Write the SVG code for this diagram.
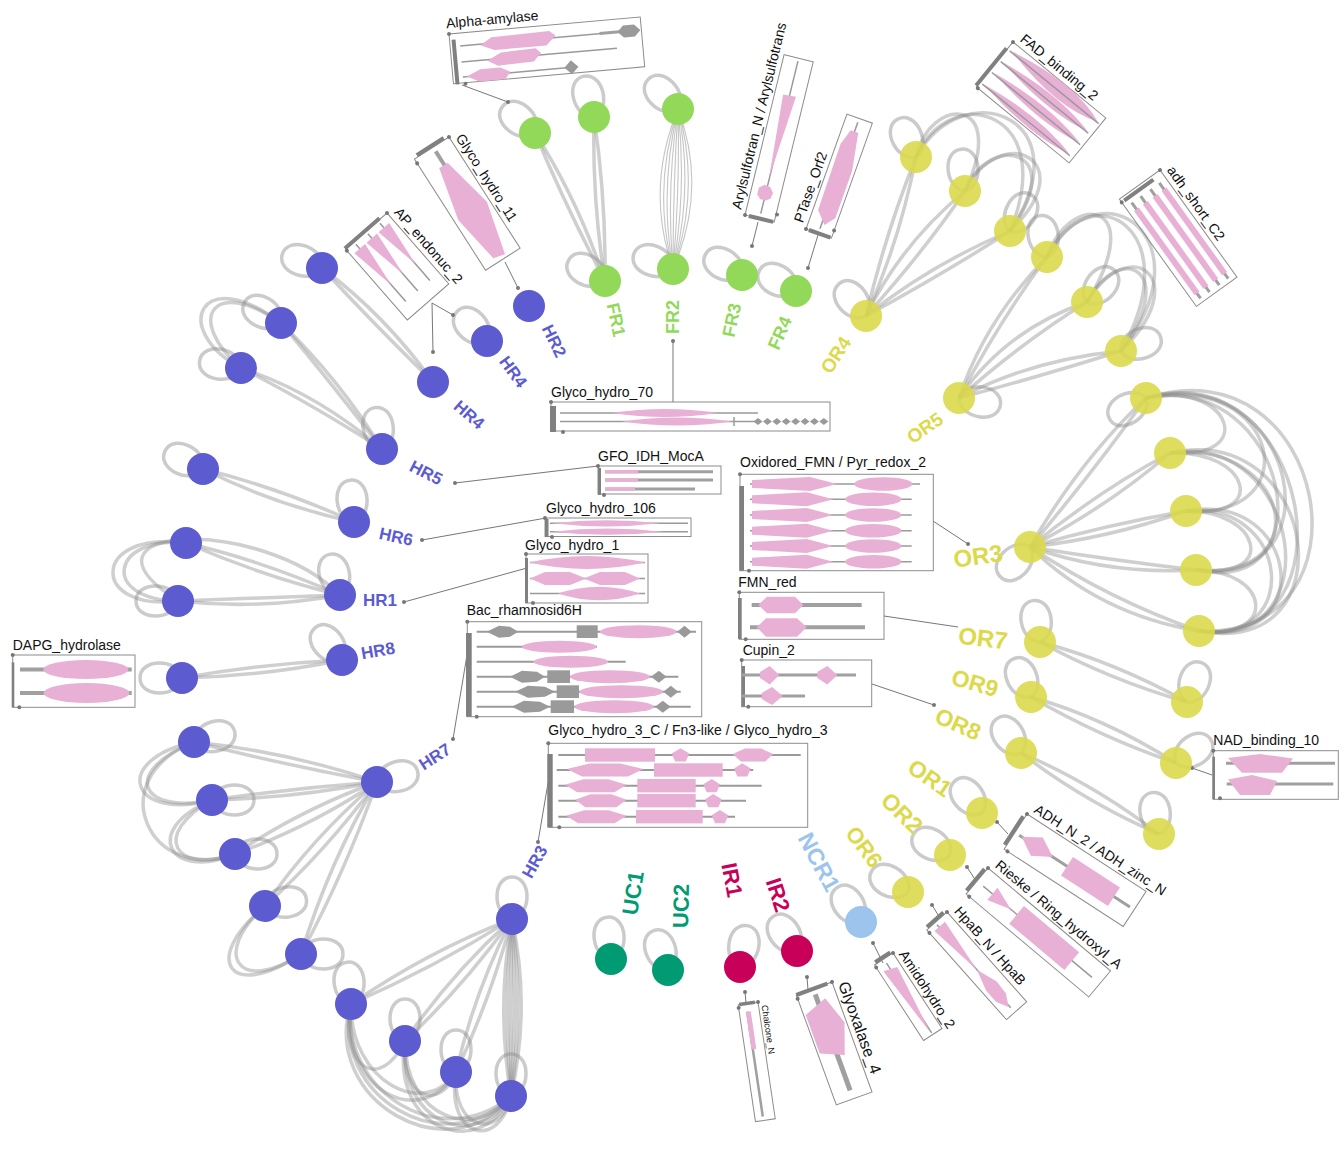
<svg xmlns="http://www.w3.org/2000/svg" width="1344" height="1165" viewBox="0 0 1344 1165">
<defs>
<path id="lp" d="M0,0 C4,-20 42,-20 42,0 C42,20 4,20 0,0"/>
</defs>
<style>
.e{fill:none;stroke:#8c8c8c;stroke-opacity:.42;stroke-width:3.5}
.et{fill:none;stroke:#8c8c8c;stroke-opacity:.5;stroke-width:1.1}
.lp{fill:none;stroke:#8c8c8c;stroke-opacity:.45;stroke-width:3.5}
.hr{fill:#5c5bd0}.fr{fill:#92d95a}.or{fill:#dcd94b;fill-opacity:.9}.uc{fill:#009b73}.ir{fill:#c8005a}.ncr{fill:#9cc4ec}
.lb{font-family:"Liberation Sans",Arial,sans-serif;font-weight:bold;text-anchor:middle;dominant-baseline:central}
.bx{fill:none;stroke:#8c8c8c;stroke-width:1}
.bar{fill:#808080}
.dt{fill:#777}
.tl{stroke:#9a9a9a;stroke-width:1.5}
.tk{stroke:#a0a0a0;stroke-width:3}
.tk4{stroke:#a0a0a0;stroke-width:4}
.pk{fill:#e8b0d4}
.gd{fill:#9a9a9a}
.cn{stroke:#777;stroke-width:1}
.t{font-family:"Liberation Sans",Arial,sans-serif;font-size:14px;fill:#111}
</style>
<rect width="1344" height="1165" fill="#fff"/>

<g id="connectors">
<!-- FR1 -->
<path class="e" d="M535,133 Q565,205 605,281"/>
<path class="e" d="M535,133 Q578,200 605,281"/>
<path class="e" d="M594,117 Q592,200 605,281"/>
<path class="e" d="M594,117 Q606,198 605,281"/>
<!-- FR2 bundle -->
<path class="et" d="M678,109 Q645,189 673,269"/>
<path class="et" d="M678,109 Q652,189 673,269"/>
<path class="et" d="M678,109 Q659,189 673,269"/>
<path class="et" d="M678,109 Q666,189 673,269"/>
<path class="et" d="M678,109 Q673,189 673,269"/>
<path class="et" d="M678,109 Q680,189 673,269"/>
<path class="et" d="M678,109 Q687,189 673,269"/>
<path class="et" d="M678,109 Q694,189 673,269"/>
<path class="et" d="M678,109 Q701,189 673,269"/>
<path class="et" d="M678,109 Q708,189 673,269"/>
<!-- OR4 -->
<path class="e" d="M866,316 Q885,235 916,157"/>
<path class="e" d="M866,316 Q900,240 916,157"/>
<path class="e" d="M866,316 Q900,245 965,191"/>
<path class="e" d="M866,316 Q925,250 965,191"/>
<path class="e" d="M866,316 Q930,265 1010,231"/>
<path class="e" d="M866,316 Q950,270 1010,231"/>
<path class="e" d="M916,157 C930,95 1010,95 965,191"/>
<path class="e" d="M916,157 C950,80 1060,110 1010,231"/>
<path class="e" d="M916,157 C965,70 1085,120 1010,231"/>
<path class="e" d="M965,191 C990,130 1070,150 1010,231"/>
<path class="e" d="M965,191 C1000,120 1085,160 1010,231"/>
<!-- OR5 -->
<path class="e" d="M959,398 Q985,320 1047,257"/>
<path class="e" d="M959,398 Q1000,320 1047,257"/>
<path class="e" d="M959,398 Q1005,330 1087,302"/>
<path class="e" d="M959,398 Q1025,340 1087,302"/>
<path class="e" d="M959,398 Q1030,360 1121,351"/>
<path class="e" d="M959,398 Q1045,375 1121,351"/>
<path class="e" d="M1047,257 C1070,190 1150,200 1087,302"/>
<path class="e" d="M1047,257 C1090,170 1190,230 1121,351"/>
<path class="e" d="M1047,257 C1100,160 1210,240 1121,351"/>
<path class="e" d="M1087,302 C1120,240 1180,270 1121,351"/>
<path class="e" d="M1087,302 C1130,230 1195,280 1121,351"/>
<!-- OR3 -->
<path class="e" d="M1030,547 Q1080,460 1146,398"/>
<path class="e" d="M1030,547 Q1095,470 1146,398"/>
<path class="e" d="M1030,547 Q1100,490 1170,453"/>
<path class="e" d="M1030,547 Q1110,505 1170,453"/>
<path class="e" d="M1030,547 Q1105,525 1186,511"/>
<path class="e" d="M1030,547 Q1110,538 1186,511"/>
<path class="e" d="M1030,547 Q1110,560 1196,570"/>
<path class="e" d="M1030,547 Q1110,575 1196,570"/>
<path class="e" d="M1030,547 Q1110,600 1199,631"/>
<path class="e" d="M1030,547 Q1100,615 1199,631"/>
<path class="e" d="M1146,398 C1330,340 1380,640 1199,631"/>
<path class="e" d="M1146,398 C1310,350 1360,650 1199,631"/>
<path class="e" d="M1146,398 C1300,360 1340,590 1196,570"/>
<path class="e" d="M1146,398 C1290,370 1330,600 1196,570"/>
<path class="e" d="M1146,398 C1280,370 1310,520 1186,511"/>
<path class="e" d="M1146,398 C1230,380 1260,460 1170,453"/>
<path class="e" d="M1170,453 C1320,420 1350,660 1199,631"/>
<path class="e" d="M1170,453 C1300,430 1335,650 1199,631"/>
<path class="e" d="M1170,453 C1290,440 1320,580 1196,570"/>
<path class="e" d="M1170,453 C1250,450 1270,520 1186,511"/>
<path class="e" d="M1186,511 C1300,490 1320,650 1199,631"/>
<path class="e" d="M1186,511 C1290,500 1305,645 1199,631"/>
<path class="e" d="M1186,511 C1260,510 1280,580 1196,570"/>
<path class="e" d="M1196,570 C1270,570 1280,640 1199,631"/>
<!-- OR7 OR9 OR8 -->
<path class="e" d="M1040,642 Q1115,662 1187,702"/>
<path class="e" d="M1040,642 Q1110,680 1187,702"/>
<path class="e" d="M1031,697 Q1105,718 1176,763"/>
<path class="e" d="M1031,697 Q1100,737 1176,763"/>
<path class="e" d="M1021,753 Q1092,783 1159,834"/>
<path class="e" d="M1021,753 Q1085,802 1159,834"/>
<!-- HR4 -->
<path class="e" d="M433,382 Q370,320 322,268"/>
<path class="e" d="M433,382 Q385,315 322,268"/>
<!-- HR5 -->
<path class="e" d="M382,449 Q305,400 241,368"/>
<path class="e" d="M382,449 Q315,392 241,368"/>
<path class="e" d="M382,449 Q325,375 281,323"/>
<path class="e" d="M382,449 Q340,380 281,323"/>
<path class="e" d="M241,368 C170,330 200,262 281,323"/>
<path class="e" d="M241,368 C185,320 212,275 281,323"/>
<!-- HR6 -->
<path class="e" d="M354,522 Q280,488 203,469"/>
<path class="e" d="M354,522 Q275,505 203,469"/>
<!-- HR1 -->
<path class="e" d="M340,595 Q260,560 186,543"/>
<path class="e" d="M340,595 Q265,577 186,543"/>
<path class="e" d="M340,595 Q260,598 178,601"/>
<path class="e" d="M340,595 Q260,610 178,601"/>
<path class="e" d="M186,543 C90,530 90,612 178,601"/>
<path class="e" d="M186,543 C110,535 100,600 178,601"/>
<path class="e" d="M340,595 C260,515 60,525 178,601"/>
<!-- HR8 -->
<path class="e" d="M342,660 Q260,664 182,678"/>
<path class="e" d="M342,660 Q265,676 182,678"/>
<!-- HR7 -->
<path class="e" d="M377,782 Q290,752 194,742"/>
<path class="e" d="M377,782 Q285,765 194,742"/>
<path class="e" d="M377,782 Q295,788 212,800"/>
<path class="e" d="M377,782 Q295,798 212,800"/>
<path class="e" d="M377,782 Q300,810 235,854"/>
<path class="e" d="M377,782 Q312,826 235,854"/>
<path class="e" d="M377,782 Q310,840 265,906"/>
<path class="e" d="M377,782 Q325,852 265,906"/>
<path class="e" d="M377,782 Q330,860 301,954"/>
<path class="e" d="M377,782 Q345,872 301,954"/>
<path class="e" d="M194,742 C110,760 130,822 212,800"/>
<path class="e" d="M194,742 C120,772 140,815 212,800"/>
<path class="e" d="M194,742 C100,780 150,885 235,854"/>
<path class="e" d="M212,800 C140,830 170,882 235,854"/>
<path class="e" d="M212,800 C150,835 175,875 235,854"/>
<path class="e" d="M265,906 C200,960 230,1002 301,954"/>
<path class="e" d="M265,906 C210,955 240,995 301,954"/>
<!-- HR3 -->
<path class="e" d="M512,919 Q430,950 351,1004"/>
<path class="e" d="M512,919 Q435,967 351,1004"/>
<path class="e" d="M512,919 Q450,975 405,1041"/>
<path class="e" d="M512,919 Q463,987 405,1041"/>
<path class="e" d="M512,919 Q475,990 456,1072"/>
<path class="e" d="M512,919 Q490,1000 456,1072"/>
<path class="e" d="M512,919 Q496,1007 511,1096"/>
<path class="e" d="M512,919 Q503,1007 511,1096"/>
<path class="e" d="M512,919 Q510,1007 511,1096"/>
<path class="e" d="M512,919 Q517,1007 511,1096"/>
<path class="e" d="M512,919 Q524,1007 511,1096"/>
<path class="e" d="M512,919 Q531,1007 511,1096"/>
<path class="e" d="M351,1004 C320,1100 450,1175 511,1096"/>
<path class="e" d="M351,1004 C330,1095 445,1165 511,1096"/>
<path class="e" d="M351,1004 C340,1090 440,1155 511,1096"/>
<path class="e" d="M351,1004 C340,1090 420,1132 456,1072"/>
<path class="e" d="M351,1004 C350,1082 425,1120 456,1072"/>
<path class="e" d="M351,1004 C340,1070 380,1092 405,1041"/>
<path class="e" d="M405,1041 C390,1130 480,1162 511,1096"/>
<path class="e" d="M405,1041 C398,1125 478,1152 511,1096"/>
<path class="e" d="M405,1041 C405,1118 475,1142 511,1096"/>
<path class="e" d="M405,1041 C400,1100 440,1112 456,1072"/>
<path class="e" d="M456,1072 C445,1140 500,1150 511,1096"/>
<path class="e" d="M456,1072 C452,1132 500,1140 511,1096"/>

<!-- self loops -->
<g class="lp">
<use href="#lp" transform="translate(535,133) rotate(-140)"/>
<use href="#lp" transform="translate(594,117) rotate(-105)"/>
<use href="#lp" transform="translate(605,281) rotate(-150)"/>
<use href="#lp" transform="translate(678,109) rotate(-135)"/>
<use href="#lp" transform="translate(673,269) rotate(-158)"/>
<use href="#lp" transform="translate(742,275) rotate(-150)"/>
<use href="#lp" transform="translate(796,291) rotate(-150)"/>
<use href="#lp" transform="translate(916,157) rotate(-115)"/>
<use href="#lp" transform="translate(965,191) rotate(-95)"/>
<use href="#lp" transform="translate(1010,231) rotate(-60)"/>
<use href="#lp" transform="translate(866,316) rotate(-130)"/>
<use href="#lp" transform="translate(1047,257) rotate(-100)"/>
<use href="#lp" transform="translate(1087,302) rotate(-50)"/>
<use href="#lp" transform="translate(1121,351) rotate(-20)"/>
<use href="#lp" transform="translate(959,398) rotate(10)"/>
<use href="#lp" transform="translate(1146,398) rotate(150)"/>
<use href="#lp" transform="translate(1030,547) rotate(135)"/>
<use href="#lp" transform="translate(1040,642) rotate(-100)"/>
<use href="#lp" transform="translate(1187,702) rotate(-70)"/>
<use href="#lp" transform="translate(1031,697) rotate(-115)"/>
<use href="#lp" transform="translate(1176,763) rotate(-35)"/>
<use href="#lp" transform="translate(1021,753) rotate(-125)"/>
<use href="#lp" transform="translate(1159,834) rotate(-100)"/>
<use href="#lp" transform="translate(982,813) rotate(-130)"/>
<use href="#lp" transform="translate(950,855) rotate(-150)"/>
<use href="#lp" transform="translate(908,892) rotate(-150)"/>
<use href="#lp" transform="translate(861,922) rotate(-125)"/>
<use href="#lp" transform="translate(797,951) rotate(-125)"/>
<use href="#lp" transform="translate(740,967) rotate(-80)"/>
<use href="#lp" transform="translate(668,970) rotate(-110)"/>
<use href="#lp" transform="translate(611,959) rotate(-95)"/>
<use href="#lp" transform="translate(487,341) rotate(-135)"/>
<use href="#lp" transform="translate(322,268) rotate(-160)"/>
<use href="#lp" transform="translate(382,449) rotate(-100)"/>
<use href="#lp" transform="translate(241,368) rotate(-170)"/>
<use href="#lp" transform="translate(281,323) rotate(-150)"/>
<use href="#lp" transform="translate(354,522) rotate(-95)"/>
<use href="#lp" transform="translate(203,469) rotate(-155)"/>
<use href="#lp" transform="translate(340,595) rotate(-105)"/>
<use href="#lp" transform="translate(178,601) rotate(180)"/>
<use href="#lp" transform="translate(342,660) rotate(-130)"/>
<use href="#lp" transform="translate(182,678) rotate(180)"/>
<use href="#lp" transform="translate(377,782) rotate(-15)"/>
<use href="#lp" transform="translate(194,742) rotate(-15)"/>
<use href="#lp" transform="translate(212,800) rotate(0)"/>
<use href="#lp" transform="translate(235,854) rotate(0)"/>
<use href="#lp" transform="translate(265,906) rotate(-10)"/>
<use href="#lp" transform="translate(301,954) rotate(0)"/>
<use href="#lp" transform="translate(512,919) rotate(-90)"/>
<use href="#lp" transform="translate(351,1004) rotate(-95)"/>
<use href="#lp" transform="translate(405,1041) rotate(-90)"/>
<use href="#lp" transform="translate(456,1072) rotate(-90)"/>
<use href="#lp" transform="translate(511,1096) rotate(-90)"/>
</g>

<!-- box connectors -->
<g class="cn">
<line x1="462" y1="85" x2="508" y2="102"/>
<line x1="505" y1="262" x2="518" y2="288"/>
<line x1="432" y1="303" x2="453" y2="315"/>
<line x1="432" y1="303" x2="433" y2="352"/>
<line x1="758" y1="222" x2="752" y2="246"/>
<line x1="818" y1="235" x2="808" y2="268"/>
<line x1="673" y1="402" x2="673" y2="341"/>
<line x1="598" y1="466" x2="455" y2="483"/>
<line x1="546" y1="518" x2="422" y2="540"/>
<line x1="527" y1="568" x2="404" y2="602"/>
<line x1="467" y1="655" x2="453" y2="739"/>
<line x1="548" y1="783" x2="538" y2="842"/>
<line x1="933" y1="521" x2="968" y2="544"/>
<line x1="884" y1="616" x2="958" y2="627"/>
<line x1="872" y1="684" x2="934" y2="705"/>
<line x1="1192" y1="768" x2="1212" y2="775"/>
<line x1="997" y1="822" x2="1008" y2="834"/>
<line x1="967" y1="867" x2="976" y2="881"/>
<line x1="932" y1="905" x2="940" y2="918"/>
<line x1="873" y1="943" x2="883" y2="963"/>
<line x1="807" y1="977" x2="808" y2="990"/>
<line x1="745" y1="992" x2="746" y2="1003"/>
</g>
<g class="dt">
<circle cx="508" cy="102" r="2"/><circle cx="518" cy="288" r="2"/><circle cx="453" cy="315" r="2"/><circle cx="433" cy="352" r="2"/>
<circle cx="752" cy="246" r="2"/><circle cx="808" cy="268" r="2"/><circle cx="673" cy="341" r="2"/><circle cx="455" cy="483" r="2"/>
<circle cx="422" cy="540" r="2"/><circle cx="404" cy="602" r="2"/><circle cx="453" cy="739" r="2"/><circle cx="538" cy="842" r="2"/>
<circle cx="968" cy="544" r="2"/><circle cx="934" cy="705" r="2"/><circle cx="1192" cy="768" r="2"/><circle cx="997" cy="822" r="2"/>
<circle cx="967" cy="867" r="2"/><circle cx="932" cy="905" r="2"/><circle cx="873" cy="943" r="2"/><circle cx="807" cy="977" r="2"/><circle cx="745" cy="992" r="2"/>
</g>
</g>

<!-- nodes -->
<g id="FR1"><circle class="fr" cx="535" cy="133" r="16"/><circle class="fr" cx="594" cy="117" r="16"/><circle class="fr" cx="605" cy="281" r="16"/><text class="lb" font-size="18" fill="#92d95a" transform="translate(616,320) rotate(78)">FR1</text></g>
<g id="FR2"><circle class="fr" cx="678" cy="109" r="16"/><circle class="fr" cx="673" cy="269" r="16"/><text class="lb" font-size="18" fill="#92d95a" transform="translate(673,317) rotate(-90)">FR2</text></g>
<g id="FR3"><circle class="fr" cx="742" cy="275" r="16"/><text class="lb" font-size="18" fill="#92d95a" transform="translate(732,320) rotate(-78)">FR3</text></g>
<g id="FR4"><circle class="fr" cx="796" cy="291" r="16"/><text class="lb" font-size="18" fill="#92d95a" transform="translate(780,333) rotate(-66)">FR4</text></g>

<g id="OR4"><circle class="or" cx="916" cy="157" r="16"/><circle class="or" cx="965" cy="191" r="16"/><circle class="or" cx="1010" cy="231" r="16"/><circle class="or" cx="866" cy="316" r="16"/><text class="lb" font-size="19" fill="#dcd94b" transform="translate(836,355) rotate(-57)">OR4</text></g>
<g id="OR5"><circle class="or" cx="1047" cy="257" r="16"/><circle class="or" cx="1087" cy="302" r="16"/><circle class="or" cx="1121" cy="351" r="16"/><circle class="or" cx="959" cy="398" r="16"/><text class="lb" font-size="19" fill="#dcd94b" transform="translate(925,428) rotate(-35)">OR5</text></g>
<g id="OR3"><circle class="or" cx="1146" cy="398" r="16"/><circle class="or" cx="1170" cy="453" r="16"/><circle class="or" cx="1186" cy="511" r="16"/><circle class="or" cx="1196" cy="570" r="16"/><circle class="or" cx="1199" cy="631" r="16"/><circle class="or" cx="1030" cy="547" r="16"/><text class="lb" font-size="24" fill="#dcd94b" transform="translate(978,556) rotate(-8)">OR3</text></g>
<g id="OR7"><circle class="or" cx="1040" cy="642" r="16"/><circle class="or" cx="1187" cy="702" r="16"/><text class="lb" font-size="24" fill="#dcd94b" transform="translate(983,638) rotate(7)">OR7</text></g>
<g id="OR9"><circle class="or" cx="1031" cy="697" r="16"/><circle class="or" cx="1176" cy="763" r="16"/><text class="lb" font-size="23" fill="#dcd94b" transform="translate(975,683) rotate(16)">OR9</text></g>
<g id="OR8"><circle class="or" cx="1021" cy="753" r="16"/><circle class="or" cx="1159" cy="834" r="16"/><text class="lb" font-size="23" fill="#dcd94b" transform="translate(958,724) rotate(24)">OR8</text></g>
<g id="OR1"><circle class="or" cx="982" cy="813" r="16"/><text class="lb" font-size="23" fill="#dcd94b" transform="translate(930,778) rotate(35)">OR1</text></g>
<g id="OR2"><circle class="or" cx="950" cy="855" r="16"/><text class="lb" font-size="23" fill="#dcd94b" transform="translate(902,813) rotate(44)">OR2</text></g>
<g id="OR6"><circle class="or" cx="908" cy="892" r="16"/><text class="lb" font-size="22" fill="#dcd94b" transform="translate(864,847) rotate(53)">OR6</text></g>
<g id="NCR1"><circle class="ncr" cx="861" cy="922" r="16"/><text class="lb" font-size="23" fill="#9cc4ec" transform="translate(819,862) rotate(62)">NCR1</text></g>
<g id="IR2"><circle class="ir" cx="797" cy="951" r="16"/><text class="lb" font-size="22" fill="#c8005a" transform="translate(778,895) rotate(72)">IR2</text></g>
<g id="IR1"><circle class="ir" cx="740" cy="967" r="16"/><text class="lb" font-size="22" fill="#c8005a" transform="translate(732,880) rotate(79)">IR1</text></g>
<g id="UC2"><circle class="uc" cx="668" cy="970" r="16"/><text class="lb" font-size="22" fill="#009b73" transform="translate(681,906) rotate(-89)">UC2</text></g>
<g id="UC1"><circle class="uc" cx="611" cy="959" r="16"/><text class="lb" font-size="22" fill="#009b73" transform="translate(633,893) rotate(-81)">UC1</text></g>

<g id="HR2"><circle class="hr" cx="529" cy="306" r="16"/><text class="lb" font-size="17" fill="#5c5bd0" transform="translate(554,341) rotate(64)">HR2</text></g>
<g id="HR4a"><circle class="hr" cx="487" cy="341" r="16"/><text class="lb" font-size="17" fill="#5c5bd0" transform="translate(513,372) rotate(54)">HR4</text></g>
<g id="HR4b"><circle class="hr" cx="433" cy="382" r="16"/><circle class="hr" cx="322" cy="268" r="16"/><text class="lb" font-size="17" fill="#5c5bd0" transform="translate(469,415) rotate(41)">HR4</text></g>
<g id="HR5"><circle class="hr" cx="382" cy="449" r="16"/><circle class="hr" cx="241" cy="368" r="16"/><circle class="hr" cx="281" cy="323" r="16"/><text class="lb" font-size="17" fill="#5c5bd0" transform="translate(426,473) rotate(27)">HR5</text></g>
<g id="HR6"><circle class="hr" cx="354" cy="522" r="16"/><circle class="hr" cx="203" cy="469" r="16"/><text class="lb" font-size="17" fill="#5c5bd0" transform="translate(396,537) rotate(12)">HR6</text></g>
<g id="HR1"><circle class="hr" cx="340" cy="595" r="16"/><circle class="hr" cx="186" cy="543" r="16"/><circle class="hr" cx="178" cy="601" r="16"/><text class="lb" font-size="17" fill="#5c5bd0" transform="translate(380,600) rotate(0)">HR1</text></g>
<g id="HR8"><circle class="hr" cx="342" cy="660" r="16"/><circle class="hr" cx="182" cy="678" r="16"/><text class="lb" font-size="17" fill="#5c5bd0" transform="translate(378,651) rotate(-10)">HR8</text></g>
<g id="HR7"><circle class="hr" cx="377" cy="782" r="16"/><circle class="hr" cx="194" cy="742" r="16"/><circle class="hr" cx="212" cy="800" r="16"/><circle class="hr" cx="235" cy="854" r="16"/><circle class="hr" cx="265" cy="906" r="16"/><circle class="hr" cx="301" cy="954" r="16"/><text class="lb" font-size="17" fill="#5c5bd0" transform="translate(435,757) rotate(-33)">HR7</text></g>
<g id="HR3"><circle class="hr" cx="512" cy="919" r="16"/><circle class="hr" cx="351" cy="1004" r="16"/><circle class="hr" cx="405" cy="1041" r="16"/><circle class="hr" cx="456" cy="1072" r="16"/><circle class="hr" cx="511" cy="1096" r="16"/><text class="lb" font-size="17" fill="#5c5bd0" transform="translate(535,862) rotate(-61)">HR3</text></g>

<!-- domain boxes -->
<g id="box-alpha-amylase" transform="translate(449,34) rotate(-5.1)">
<text class="t" x="-2" y="-6">Alpha-amylase</text>
<rect class="bx" x="0" y="0" width="192" height="50"/>
<rect class="bar" x="2" y="6" width="4" height="45"/>
<circle class="dt" cx="0" cy="0" r="2"/><circle class="dt" cx="12" cy="51" r="2"/>
<line class="tl" x1="10" y1="13" x2="152" y2="13"/><line class="tk" x1="150" y1="13" x2="170" y2="13"/>
<polygon class="gd" points="168,13 174,7 185,7 191,13 185,19 174,19"/>
<polygon class="pk" points="30,14 42,7 100,6 106,11 96,20 44,20"/>
<line class="tl" x1="10" y1="29" x2="166" y2="29"/>
<polygon class="pk" points="36,30 50,23 85,22 90,27 82,35 46,36"/>
<line class="tl" x1="10" y1="44" x2="114" y2="44"/>
<polygon class="pk" points="14,44 28,38 48,38 58,43 52,50 26,50"/>
<polygon class="gd" points="112,44 119,37 126,44 119,51"/>
</g>

<g id="box-glyco-hydro-11" transform="translate(449,137) rotate(57.4)">
<text class="t" x="4" y="-5">Glyco_hydro_11</text>
<rect class="bx" x="0" y="0" width="132" height="41"/>
<rect class="bar" x="-4" y="5" width="4" height="32"/>
<circle class="dt" cx="0" cy="0" r="2"/><circle class="dt" cx="5" cy="41" r="2"/>
<line class="tk4" x1="5" y1="19" x2="22" y2="19"/>
<polygon class="pk" points="21,15 75,3 129,16 126,28 75,37 21,25"/>
</g>

<g id="box-ap-endonuc-2" transform="translate(387,213) rotate(48.9)">
<text class="t" x="4" y="-5">AP_endonuc_2</text>
<rect class="bx" x="0" y="0" width="94" height="55"/>
<rect class="bar" x="-3" y="9" width="4" height="46"/>
<circle class="dt" cx="0" cy="0" r="2"/><circle class="dt" cx="2" cy="55" r="2"/>
<line class="tl" x1="3" y1="12" x2="79" y2="12"/>
<line class="tl" x1="3" y1="28" x2="79" y2="28"/>
<line class="tl" x1="3" y1="44" x2="79" y2="44"/>
<polygon class="pk" points="9,5 9,19 57,12"/>
<polygon class="pk" points="9,21 9,35 57,28"/>
<polygon class="pk" points="9,37 9,51 57,44"/>
</g>

<g id="box-arylsulfotran" transform="translate(745,215) rotate(-76.3)">
<text class="t" x="4" y="-5">Arylsulfotran_N / Arylsulfotrans</text>
<rect class="bx" x="0" y="0" width="165" height="30"/>
<rect class="bar" x="-2" y="4" width="4" height="25"/>
<circle class="dt" cx="0" cy="0" r="2"/><circle class="dt" cx="8" cy="31" r="2"/>
<line class="tl" x1="5" y1="15" x2="162" y2="15"/>
<polygon class="pk" points="19,11 23,7 30,7 34,12 33,18 28,22 22,21 19,17"/>
<polygon class="pk" points="42,14.5 126,8.5 127,21.5"/>
</g>

<g id="box-ptase-orf2" transform="translate(806,229) rotate(-70.4)">
<text class="t" x="4" y="-5">PTase_Orf2</text>
<rect class="bx" x="0" y="0" width="122" height="27"/>
<rect class="bar" x="-2" y="3" width="4" height="23"/>
<circle class="dt" cx="0" cy="0" r="2"/><circle class="dt" cx="8" cy="27" r="2"/>
<line class="tl" x1="5" y1="13" x2="118" y2="13"/>
<polygon class="pk" points="10,16 22,5 92,4 108,9 108,17 70,24 20,24"/>
</g>

<g id="box-fad-binding-2" transform="translate(1013,42) rotate(39.3)">
<text class="t" x="4" y="-5">FAD_binding_2</text>
<rect class="bx" x="0" y="0" width="120" height="58"/>
<rect class="bar" x="-3" y="9" width="4" height="48"/>
<circle class="dt" cx="0" cy="0" r="2"/><circle class="dt" cx="2" cy="58" r="2"/>
<path class="pk" d="M5,8 Q75,-8 116,8 Q75,24 5,8Z"/>
<path class="pk" d="M5,22 Q70,11 115,22 Q70,33 5,22Z"/>
<path class="pk" d="M5,36 Q70,25 116,36 Q70,47 5,36Z"/>
<path class="pk" d="M5,51 Q70,40 115,51 Q70,62 5,51Z"/>
<line class="tl" x1="3" y1="9" x2="118" y2="9"/>
<line class="tl" x1="3" y1="23" x2="116" y2="23"/>
<line class="tl" x1="3" y1="37" x2="117" y2="37"/>
<line class="tl" x1="3" y1="52" x2="116" y2="52"/>
</g>

<g id="box-adh-short-c2" transform="translate(1160,170) rotate(54.3)">
<text class="t" x="4" y="-5">adh_short_C2</text>
<rect class="bx" x="0" y="0" width="132" height="50"/>
<rect class="bar" x="2" y="11" width="4" height="36"/>
<circle class="dt" cx="0" cy="0" r="2"/><circle class="dt" cx="4" cy="50" r="2"/>
<line class="tk" x1="10" y1="8" x2="128" y2="8"/>
<line class="tk" x1="10" y1="19" x2="128" y2="19"/>
<line class="tk" x1="10" y1="31" x2="128" y2="31"/>
<line class="tk" x1="10" y1="42" x2="128" y2="42"/>
<rect class="pk" x="18" y="5" width="104" height="6"/>
<rect class="pk" x="18" y="16" width="104" height="6"/>
<rect class="pk" x="18" y="28" width="104" height="6"/>
<rect class="pk" x="18" y="39" width="104" height="6"/>
</g>

<g id="box-glyco-hydro-70">
<text class="t" x="551" y="397">Glyco_hydro_70</text>
<rect class="bx" x="551" y="402" width="279" height="29"/>
<rect class="bar" x="550" y="406" width="6" height="26"/>
<circle class="dt" cx="551" cy="402" r="2"/><circle class="dt" cx="563" cy="432" r="2"/>
<line class="tl" x1="560" y1="413" x2="758" y2="413"/>
<path class="pk" d="M612,413 Q665,405 718,413 Q665,421 612,413Z"/>
<line class="tl" x1="560" y1="421.5" x2="756" y2="421.5"/>
<path class="pk" d="M622,421.5 Q677,413.5 732,421.5 Q677,429.5 622,421.5Z"/>
<line class="tl" x1="734" y1="417" x2="734" y2="426"/>
<polygon class="gd" points="753.5,421.5 758,418 762.5,421.5 758,425 "/>
<polygon class="gd" points="762.9,421.5 767.4,418 771.9,421.5 767.4,425"/>
<polygon class="gd" points="772.3,421.5 776.8,418 781.3,421.5 776.8,425"/>
<polygon class="gd" points="781.7,421.5 786.2,418 790.7,421.5 786.2,425"/>
<polygon class="gd" points="791.1,421.5 795.6,418 800.1,421.5 795.6,425"/>
<polygon class="gd" points="800.5,421.5 805,418 809.5,421.5 805,425"/>
<polygon class="gd" points="809.9,421.5 814.4,418 818.9,421.5 814.4,425"/>
<polygon class="gd" points="819.3,421.5 823.8,418 828.3,421.5 823.8,425"/>
</g>

<g id="box-gfo-idh-moca">
<text class="t" x="598" y="461">GFO_IDH_MocA</text>
<rect class="bx" x="598" y="466" width="123" height="28"/>
<rect class="bar" x="598" y="468" width="3" height="27"/>
<circle class="dt" cx="598" cy="466" r="2"/><circle class="dt" cx="604" cy="495" r="2"/>
<line class="tk" x1="605" y1="471.7" x2="713" y2="471.7"/>
<line class="tk" x1="605" y1="480" x2="713" y2="480"/>
<line class="tk" x1="605" y1="489" x2="695" y2="489"/>
<rect class="pk" x="605" y="470" width="33" height="3.5"/>
<rect class="pk" x="605" y="478.3" width="33" height="3.5"/>
<rect class="pk" x="605" y="487.3" width="30" height="3.5"/>
</g>

<g id="box-glyco-hydro-106">
<text class="t" x="546" y="513">Glyco_hydro_106</text>
<rect class="bx" x="545" y="518" width="146" height="18.5"/>
<rect class="bar" x="545" y="519" width="3.5" height="18"/>
<circle class="dt" cx="545" cy="518" r="2"/><circle class="dt" cx="552" cy="537" r="2"/>
<line class="tl" x1="550" y1="523.3" x2="688" y2="523.3"/>
<line class="tl" x1="550" y1="531.7" x2="688" y2="531.7"/>
<path class="pk" d="M552,523.3 Q606,517 660,523.3 Q606,529.6 552,523.3Z"/>
<path class="pk" d="M552,531.7 Q607,525.4 663,531.7 Q607,538 552,531.7Z"/>
</g>

<g id="box-glyco-hydro-1">
<text class="t" x="525" y="550">Glyco_hydro_1</text>
<rect class="bx" x="526" y="554" width="122" height="49"/>
<rect class="bar" x="525" y="558" width="3" height="45"/>
<circle class="dt" cx="526" cy="554" r="2"/><circle class="dt" cx="533" cy="603" r="2"/>
<line class="tl" x1="530" y1="562.5" x2="645" y2="562.5"/>
<line class="tl" x1="530" y1="578.5" x2="645" y2="578.5"/>
<line class="tl" x1="530" y1="593.5" x2="645" y2="593.5"/>
<path class="pk" d="M529,562.5 Q587,549.5 645,562.5 Q587,575.5 529,562.5Z"/>
<polygon class="pk" points="530,578.5 545,572 570,572 585,578 600,572 625,572 640,578.5 625,585 600,585 585,579 570,585 545,585"/>
<path class="pk" d="M558,593.5 Q599,580 640,593.5 Q599,607 558,593.5Z"/>
</g>

<g id="box-bac-rhamnosid6h">
<text class="t" x="466.7" y="615">Bac_rhamnosid6H</text>
<rect class="bx" x="467.3" y="621.7" width="234.4" height="95"/>
<rect class="bar" x="466" y="633" width="5.7" height="83.7"/>
<circle class="dt" cx="467.3" cy="621.7" r="2"/><circle class="dt" cx="476.7" cy="716.7" r="2"/>
<g stroke="#9a9a9a" stroke-width="2">
<line x1="476.7" y1="631.7" x2="696" y2="631.7"/>
<line x1="476.7" y1="646.7" x2="597" y2="646.7"/>
<line x1="476.7" y1="661.7" x2="625.7" y2="661.7"/>
<line x1="476.7" y1="676.7" x2="678.3" y2="676.7"/>
<line x1="476.7" y1="691.7" x2="680.7" y2="691.7"/>
<line x1="476.7" y1="706.7" x2="690.7" y2="706.7"/>
</g>
<polygon class="gd" points="486.7,631.7 499,625.7 510,626.7 518.3,631.7 510,636.7 499,637.7"/>
<polygon class="gd" points="510,676.7 522,670.7 537,671.7 545,676.7 537,681.7 522,682.7"/>
<polygon class="gd" points="515,691.7 528,685.7 545,686.7 555,691.7 545,696.7 528,697.7"/>
<polygon class="gd" points="511.7,706.7 524,700.7 540,701.7 550,706.7 540,711.7 524,712.7"/>
<rect class="gd" x="576.7" y="625.3" width="21" height="12.7"/>
<rect class="gd" x="547.3" y="670.3" width="22.7" height="12.7"/>
<rect class="gd" x="556.7" y="685.3" width="22.3" height="12.7"/>
<rect class="gd" x="550.7" y="700.3" width="23.3" height="12.7"/>
<ellipse class="pk" cx="638.3" cy="631.7" rx="38.3" ry="6.5"/>
<ellipse class="pk" cx="559.2" cy="646.7" rx="37.5" ry="6"/>
<ellipse class="pk" cx="570.8" cy="661.7" rx="37.5" ry="6"/>
<ellipse class="pk" cx="610" cy="676.7" rx="40" ry="6.5"/>
<ellipse class="pk" cx="621.3" cy="691.7" rx="42" ry="6.5"/>
<ellipse class="pk" cx="614.2" cy="706.7" rx="39.8" ry="6.5"/>
<polygon class="gd" points="677.3,631.7 684.5,625.7 691.7,631.7 684.5,637.7"/>
<polygon class="gd" points="651,676.7 658.8,670.7 666.6,676.7 658.8,682.7"/>
<polygon class="gd" points="663.3,691.7 670.8,685.7 678.3,691.7 670.8,697.7"/>
<polygon class="gd" points="655,706.7 662.8,700.7 670.6,706.7 662.8,712.7"/>
</g>

<g id="box-oxidored-fmn">
<text class="t" x="740" y="467.3">Oxidored_FMN / Pyr_redox_2</text>
<rect class="bx" x="740" y="474.3" width="193.3" height="96.4"/>
<rect class="bar" x="739.3" y="486" width="4.7" height="84.7"/>
<circle class="dt" cx="740" cy="474.3" r="2"/><circle class="dt" cx="749" cy="570.7" r="2"/>
<g class="tl">
<line x1="750" y1="484" x2="920" y2="484"/>
<line x1="750" y1="499.3" x2="911.7" y2="499.3"/>
<line x1="750" y1="515" x2="911.7" y2="515"/>
<line x1="750" y1="530.7" x2="911.7" y2="530.7"/>
<line x1="750" y1="546" x2="911.7" y2="546"/>
<line x1="750" y1="561.7" x2="911.7" y2="561.7"/>
</g>
<polygon class="pk" points="752,480 810,477 837,484 810,491 752,488"/>
<polygon class="pk" points="752,495.3 806.7,492.3 833.3,499.3 806.7,506.3 752,503.3"/>
<polygon class="pk" points="752,511 806.7,508 833.3,515 806.7,522 752,519"/>
<polygon class="pk" points="752,526.7 806.7,523.7 833.3,530.7 806.7,537.7 752,534.7"/>
<polygon class="pk" points="752,542 806.7,539 833.3,546 806.7,553 752,550"/>
<polygon class="pk" points="752,557.7 806.7,554.7 833.3,561.7 806.7,568.7 752,565.7"/>
<ellipse class="pk" cx="883.3" cy="484" rx="29.3" ry="6.7"/>
<ellipse class="pk" cx="873.3" cy="499.3" rx="28.3" ry="6.7"/>
<ellipse class="pk" cx="873.3" cy="515" rx="28.3" ry="6.7"/>
<ellipse class="pk" cx="873.3" cy="530.7" rx="28.3" ry="6.7"/>
<ellipse class="pk" cx="873.3" cy="546" rx="28.3" ry="6.7"/>
<ellipse class="pk" cx="873.3" cy="561.7" rx="28.3" ry="6.7"/>
</g>

<g id="box-fmn-red">
<text class="t" x="738.3" y="586.7">FMN_red</text>
<rect class="bx" x="739.3" y="592.3" width="144.7" height="47"/>
<rect class="bar" x="738" y="598" width="3.7" height="41"/>
<circle class="dt" cx="739.3" cy="592.3" r="2"/><circle class="dt" cx="745.7" cy="639.3" r="2"/>
<line class="tk4" x1="751.7" y1="605" x2="861.7" y2="605"/>
<line class="tk4" x1="750" y1="627.3" x2="865" y2="627.3"/>
<polygon class="pk" points="758.3,605 767,596.7 795,596.7 803.3,605 795,613.3 767,613.3"/>
<polygon class="pk" points="756.7,627.3 766,618.3 797,618.3 806.7,627.3 797,636.7 766,636.7"/>
</g>

<g id="box-cupin-2">
<text class="t" x="742.7" y="655">Cupin_2</text>
<rect class="bx" x="741.7" y="660" width="130" height="46.7"/>
<rect class="bar" x="741.7" y="666" width="3.3" height="40.7"/>
<circle class="dt" cx="741.7" cy="660" r="2"/><circle class="dt" cx="748.3" cy="706.7" r="2"/>
<line class="tk" x1="741.7" y1="675" x2="856" y2="675"/>
<line class="tk" x1="741.7" y1="696" x2="805" y2="696"/>
<polygon class="pk" points="760,672 769.7,666 779.3,675 769.7,684.5 760,678"/>
<polygon class="pk" points="817.3,672 827.3,666 837.3,675 827.3,684.5 817.3,678"/>
<polygon class="pk" points="761.7,693 772,687 782.7,696 772,705 761.7,699"/>
</g>

<g id="box-glyco-hydro-3">
<text class="t" x="548.3" y="735">Glyco_hydro_3_C / Fn3-like / Glyco_hydro_3</text>
<rect class="bx" x="548.3" y="743.3" width="259.4" height="84"/>
<rect class="bar" x="547.3" y="754" width="5.4" height="73.3"/>
<circle class="dt" cx="548.3" cy="743.3" r="2"/><circle class="dt" cx="559.3" cy="827.3" r="2"/>
<g stroke="#9a9a9a" stroke-width="2">
<line x1="558.3" y1="755" x2="800.7" y2="755"/>
<line x1="556.7" y1="770" x2="753.3" y2="770"/>
<line x1="558.3" y1="785.7" x2="761.7" y2="785.7"/>
<line x1="558.3" y1="800.7" x2="746" y2="800.7"/>
<line x1="558.3" y1="816.7" x2="735" y2="816.7"/>
</g>
<rect class="pk" x="585" y="748.3" width="70" height="13.4"/>
<polygon class="pk" points="671.7,753.5 680.5,748.2 689.3,753.5 685.8,761.5 675.2,761.5"/>
<polygon class="pk" points="732.7,754 744.9,748.5 761.1,748.5 773.3,754 765.2,761.5 740.8,761.5"/>
<polygon class="pk" points="566.7,769 589.7,763.5 620.3,763.5 643.3,769 628,776.5 582,776.5"/>
<rect class="pk" x="654" y="763.3" width="68.7" height="13.4"/>
<polygon class="pk" points="734,768.5 742.3,763.2 750.7,768.5 747.4,776.5 737.3,776.5"/>
<polygon class="pk" points="565,784.7 583.5,779.2 608.2,779.2 626.7,784.7 614.4,792.2 577.3,792.2"/>
<rect class="pk" x="637.3" y="779" width="58.4" height="13.4"/>
<polygon class="pk" points="703.3,784.2 711.7,778.9 720,784.2 716.7,792.2 706.6,792.2"/>
<polygon class="pk" points="575,799.7 590.5,794.2 611.2,794.2 626.7,799.7 616.4,807.2 585.3,807.2"/>
<rect class="pk" x="637.3" y="794" width="58.4" height="13.4"/>
<polygon class="pk" points="705,799.2 713.3,793.9 721.7,799.2 718.4,807.2 708.3,807.2"/>
<polygon class="pk" points="566,815.7 584.2,810.2 608.5,810.2 626.7,815.7 614.6,823.2 578.1,823.2"/>
<rect class="pk" x="636" y="810" width="66.7" height="13.4"/>
<polygon class="pk" points="711.7,815.2 720,809.9 728.3,815.2 725,823.2 715,823.2"/>
</g>

<g id="box-dapg-hydrolase">
<text class="t" x="12.7" y="650">DAPG_hydrolase</text>
<rect class="bx" x="12.7" y="655" width="122.3" height="52.3"/>
<rect class="bar" x="11.7" y="662.3" width="2.6" height="45"/>
<circle class="dt" cx="12.7" cy="655" r="2"/><circle class="dt" cx="19.3" cy="707.3" r="2"/>
<line class="tk4" x1="20" y1="669.5" x2="131.7" y2="669.5"/>
<line class="tk4" x1="20" y1="693" x2="131.7" y2="693"/>
<ellipse class="pk" cx="85.8" cy="669.5" rx="42.5" ry="9.5"/>
<ellipse class="pk" cx="86.5" cy="693" rx="43" ry="10"/>
</g>

<g id="box-nad-binding-10">
<text class="t" x="1213.3" y="745">NAD_binding_10</text>
<rect class="bx" x="1213.3" y="750.7" width="125" height="48.6"/>
<rect class="bar" x="1212.3" y="756.7" width="2.7" height="42.6"/>
<circle class="dt" cx="1213.3" cy="750.7" r="2"/><circle class="dt" cx="1220" cy="798.3" r="2"/>
<line class="tk" x1="1226" y1="763.3" x2="1335" y2="763.3"/>
<line class="tk" x1="1226.7" y1="784" x2="1333.3" y2="784"/>
<polygon class="pk" points="1228,758 1260,754 1293,758.5 1282,772.7 1242,772.7"/>
<polygon class="pk" points="1228,779.5 1252,775 1277,781 1270,795 1240,795"/>
</g>

<g id="box-adh-n-2" transform="translate(1027,814) rotate(33)">
<text class="t" x="4" y="-5">ADH_N_2 / ADH_zinc_N</text>
<rect class="bx" x="0" y="0" width="142" height="42"/>
<rect class="bar" x="-4" y="4" width="4" height="34"/>
<circle class="dt" cx="0" cy="0" r="2"/><circle class="dt" cx="4" cy="42" r="2"/>
<line class="tk" x1="5" y1="22" x2="137" y2="22"/>
<polygon class="pk" points="8,22 26,11 45,22 26,33"/>
<rect class="pk" x="62" y="11" width="56" height="22"/>
</g>

<g id="box-rieske" transform="translate(988,868) rotate(40)">
<text class="t" x="4" y="-5">Rieske / Ring_hydroxyl_A</text>
<rect class="bx" x="0" y="0" width="160" height="34"/>
<rect class="bar" x="-4" y="3" width="4" height="28"/>
<circle class="dt" cx="0" cy="0" r="2"/><circle class="dt" cx="4" cy="34" r="2"/>
<line class="tl" x1="8" y1="17" x2="150" y2="17"/>
<polygon class="pk" points="20,9 20,25 44,17"/>
<rect class="pk" x="52" y="6" width="72" height="23"/>
</g>

<g id="box-hpab" transform="translate(947,912) rotate(48.4)">
<text class="t" x="4" y="-5">HpaB_N / HpaB</text>
<rect class="bx" x="0" y="0" width="120" height="27"/>
<rect class="bar" x="-4" y="3" width="4" height="22"/>
<circle class="dt" cx="0" cy="0" r="2"/><circle class="dt" cx="4" cy="27" r="2"/>
<line class="tl" x1="3" y1="16" x2="114" y2="16"/>
<polygon class="pk" points="6,8 6,22 63,16"/>
<polygon class="pk" points="63,16 85,9 100,10 112,17 100,23 85,23"/>
</g>

<g id="box-amidohydro-2" transform="translate(893,953) rotate(57)">
<text class="t" x="4" y="-4">Amidohydro_2</text>
<rect class="bx" x="0" y="0" width="90" height="22"/>
<rect class="bar" x="-4" y="2" width="4" height="18"/>
<circle class="dt" cx="0" cy="0" r="2"/><circle class="dt" cx="3" cy="22" r="2"/>
<line class="tl" x1="5" y1="11" x2="88" y2="11"/>
<polygon class="pk" points="10,18 14,4 87,12"/>
</g>

<g id="box-glyoxalase-4" transform="translate(832,982) rotate(70)">
<text class="t" x="4" y="-5" style="font-size:16px">Glyoxalase_4</text>
<rect class="bx" x="0" y="0" width="117" height="38"/>
<rect class="bar" x="-2" y="5" width="4" height="33"/>
<circle class="dt" cx="0" cy="0" r="2"/><circle class="dt" cx="4" cy="38" r="2"/>
<line stroke="#a0a0a0" stroke-width="5" x1="6" y1="20" x2="108" y2="20"/>
<polygon class="pk" points="13,12 42,2 73,13 63,36 22,36"/>
</g>

<g id="box-chalcone-n" transform="translate(758,1002) rotate(81.6)">
<text class="t" x="4" y="-3" style="font-size:9px">Chalcone_N</text>
<rect class="bx" x="0" y="0" width="118" height="20"/>
<rect class="bar" x="-2" y="3" width="3.5" height="16"/>
<circle class="dt" cx="0" cy="0" r="2"/><circle class="dt" cx="3" cy="20" r="2"/>
<line stroke="#a0a0a0" stroke-width="2.5" x1="8" y1="12" x2="114" y2="12"/>
<rect class="pk" x="8" y="8.5" width="38" height="5"/>
</g>
</svg>
